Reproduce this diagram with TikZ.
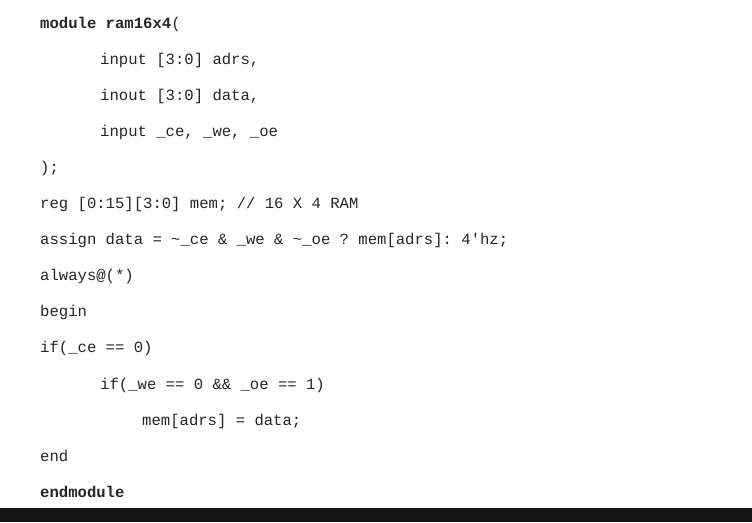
\documentclass[tikz,border=0pt]{standalone}
\usepackage{fontspec}
\setmonofont{Liberation Mono}
\begin{document}
\begin{tikzpicture}[x=1pt,y=-1pt,
  code/.style={anchor=base west,inner sep=0pt,font=\ttfamily\fontsize{15.6}{18}\selectfont,text=black!85}]
\useasboundingbox (0,0) rectangle (752,522);
\fill[white] (0,0) rectangle (752,508);
\fill[black!92] (0,508) rectangle (752,522);
\node[code] (l0) at (40,28) {\textbf{module ram16x4}(};
\node[code] (l1) at (100,64.1) {input [3:0] adrs,};
\node[code] (l2) at (100,100.2) {inout [3:0] data,};
\node[code] (l3) at (100,136.3) {input \_ce, \_we, \_oe};
\node[code] (l4) at (40,172.4) {);};
\node[code] (l5) at (40,208.5) {reg [0:15][3:0] mem; // 16 X 4 RAM};
\node[code] (l6) at (40,244.6) {assign data = \textasciitilde\_ce \& \_we \& \textasciitilde\_oe ? mem[adrs]: 4'hz;};
\node[code] (l7) at (40,280.7) {always@(*)};
\node[code] (l8) at (40,316.8) {begin};
\node[code] (l9) at (40,352.9) {if(\_ce == 0)};
\node[code] (l10) at (100,389) {if(\_we == 0 \&\& \_oe == 1)};
\node[code] (l11) at (142,425.1) {mem[adrs] = data;};
\node[code] (l12) at (40,461.2) {end};
\node[code] (l13) at (40,497.3) {\textbf{endmodule}};
\end{tikzpicture}
\end{document}
